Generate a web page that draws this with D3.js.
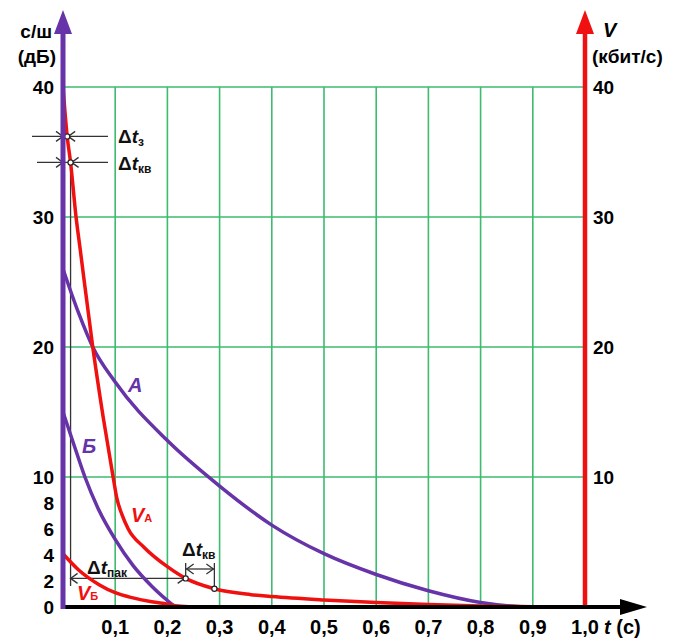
<!DOCTYPE html>
<html><head><meta charset="utf-8">
<script src="https://cdn.jsdelivr.net/npm/d3@7"></script>
<style>body{margin:0;background:#fff}svg{display:block}text{font-family:"Liberation Sans",Arial,sans-serif;font-weight:bold}</style>
</head><body>
<script>
// ---- data ----
const xTicks = [0.1,0.2,0.3,0.4,0.5,0.6,0.7,0.8,0.9,1.0];
const xTickLabels = ["0,1","0,2","0,3","0,4","0,5","0,6","0,7","0,8","0,9","1,0"];
const leftTicks = [0,2,4,6,8,10,20,30,40];
const rightTicks = [10,20,30,40];
const gridY = [10,20,30,40];
const gridX = [0.1,0.2,0.3,0.4,0.5,0.6,0.7,0.8,0.9];
const curveA = [[0,26],[0.03,22.6],[0.057,20],[0.1,17.3],[0.2,12.8],[0.3,9.3],[0.4,6.3],[0.5,4.1],[0.6,2.5],[0.7,1.25],[0.8,0.35],[0.9,0],[0.99,0]];
const curveB = [[0,15],[0.02,12.6],[0.042,10],[0.067,7.6],[0.1,5.2],[0.134,3.2],[0.17,1.6],[0.2,0.5],[0.215,0]];
const curveVA = [[0,40],[0.008,36.2],[0.0145,34.2],[0.025,30],[0.033,27.5],[0.057,20],[0.077,14.6],[0.096,10],[0.103,8.4],[0.113,7.1],[0.125,6.0],[0.155,4.6],[0.2,3.1],[0.235,2.2],[0.29,1.4],[0.36,0.95],[0.4,0.8],[0.5,0.54],[0.6,0.35],[0.7,0.2],[0.8,0.08],[0.9,0.02],[1.0,0]];
const curveVB = [[0,4.1],[0.03,2.85],[0.07,1.7],[0.1,1.1],[0.134,0.7],[0.17,0.4],[0.2,0.22],[0.22,0.08],[0.25,0]];
const markTimes = [0.008,0.0145,0.235,0.29];

const W=686,H=640;
const purple="#6633a8", red="#f01010", green="#3dbb6e", ink="#333";
const x = d3.scaleLinear().domain([0,1]).range([63,585]);
const y = d3.scaleLinear().domain([0,40]).range([607,87]);

const svg = d3.select("body").append("svg").attr("width",W).attr("height",H);

// grid
svg.append("g").selectAll("line").data(gridX).join("line")
  .attr("x1",d=>x(d)).attr("x2",d=>x(d)).attr("y1",y(40)).attr("y2",y(0))
  .attr("stroke",green).attr("stroke-width",1.6);
svg.append("g").selectAll("line").data(gridY).join("line")
  .attr("x1",x(0)).attr("x2",x(1)).attr("y1",d=>y(d)).attr("y2",d=>y(d))
  .attr("stroke",green).attr("stroke-width",1.6);

const line = d3.line().x(d=>x(d[0])).y(d=>y(d[1])).curve(d3.curveMonotoneX);

// annotation helpers
const ann = svg.append("g").attr("stroke",ink).attr("stroke-width",1.3).attr("fill","none");
function chev(px,py,dir){ // dir +1 tip pointing right, -1 pointing left
  ann.append("path").attr("d",`M${px-dir*7},${py-5}L${px},${py}L${px-dir*7},${py+5}`);
}
function vaAt(t){ return curveVA.find(d=>d[0]===t)[1]; }
const m = markTimes.map(t=>[x(t),y(vaAt(t))]);

// top dimension lines
ann.append("line").attr("x1",32).attr("x2",108).attr("y1",m[0][1]).attr("y2",m[0][1]);
chev(x(0),m[0][1],1); chev(m[0][0]+1,m[0][1],-1);
ann.append("line").attr("x1",37).attr("x2",108).attr("y1",m[1][1]).attr("y2",m[1][1]);
chev(x(0),m[1][1],1); chev(m[1][0]+1,m[1][1],-1);
// vertical from marker 2 down
ann.append("line").attr("x1",m[1][0]).attr("x2",m[1][0]).attr("y1",m[1][1]).attr("y2",586);
// Δt пак line
ann.append("line").attr("x1",m[1][0]).attr("x2",m[2][0]).attr("y1",m[2][1]).attr("y2",m[2][1]);
chev(m[1][0],m[2][1],-1); chev(m[2][0]-1,m[2][1],1);
// Δt кв bottom
ann.append("line").attr("x1",m[2][0]).attr("x2",m[2][0]).attr("y1",563).attr("y2",m[2][1]);
ann.append("line").attr("x1",m[3][0]).attr("x2",m[3][0]).attr("y1",563).attr("y2",m[3][1]);
ann.append("line").attr("x1",m[2][0]).attr("x2",m[3][0]).attr("y1",569).attr("y2",569);
chev(m[2][0]+1,569,-1); chev(m[3][0]-1,569,1);

// curves
svg.append("path").datum(curveA).attr("d",line).attr("fill","none").attr("stroke",purple).attr("stroke-width",3.5);
svg.append("path").datum(curveB).attr("d",line).attr("fill","none").attr("stroke",purple).attr("stroke-width",3.5);
svg.append("path").datum(curveVB).attr("d",line).attr("fill","none").attr("stroke",red).attr("stroke-width",3.5);
svg.append("path").datum(curveVA).attr("d",line).attr("fill","none").attr("stroke",red).attr("stroke-width",3.5);

// markers
svg.append("g").selectAll("circle").data(m).join("circle")
  .attr("cx",d=>d[0]).attr("cy",d=>d[1]).attr("r",2.6)
  .attr("fill","#fff").attr("stroke","#222").attr("stroke-width",1.2);

// axes
svg.append("line").attr("x1",x(1)).attr("x2",x(1)).attr("y1",y(0)).attr("y2",30).attr("stroke",red).attr("stroke-width",4.5);
svg.append("path").attr("d",`M${x(1)},10L${x(1)+9},34L${x(1)-9},34Z`).attr("fill",red);
svg.append("line").attr("x1",x(0)-2).attr("x2",625).attr("y1",y(0)).attr("y2",y(0)).attr("stroke","#000").attr("stroke-width",4);
svg.append("path").attr("d",`M647,${y(0)}L620,${y(0)-8}L620,${y(0)+8}Z`).attr("fill","#000");
svg.append("line").attr("x1",x(0)).attr("x2",x(0)).attr("y1",y(0)+2).attr("y2",30).attr("stroke",purple).attr("stroke-width",5);
svg.append("path").attr("d",`M${x(0)},10L${x(0)+9},34L${x(0)-9},34Z`).attr("fill",purple);

// tick labels
svg.append("g").selectAll("text").data(leftTicks).join("text")
  .attr("x",54).attr("y",d=>y(d)).attr("dy","0.36em").attr("text-anchor","end")
  .attr("font-size",19).text(d=>d);
svg.append("g").selectAll("text").data(rightTicks).join("text")
  .attr("x",593).attr("y",d=>y(d)).attr("dy","0.36em").attr("text-anchor","start")
  .attr("font-size",19).text(d=>d);
svg.append("g").selectAll("text").data(xTicks).join("text")
  .attr("x",d=>x(d)).attr("y",634).attr("text-anchor","middle")
  .attr("font-size",20).text((d,i)=>xTickLabels[i]);

// axis titles
svg.append("text").attr("x",52).attr("y",38).attr("text-anchor","end").attr("font-size",19).text("с/ш");
svg.append("text").attr("x",56).attr("y",63).attr("text-anchor","end").attr("font-size",19).text("(дБ)");
svg.append("text").attr("x",603).attr("y",37).attr("font-size",20).attr("font-style","italic").text("V");
svg.append("text").attr("x",592).attr("y",63).attr("font-size",19).text("(кбит/с)");
const tl = svg.append("text").attr("x",604).attr("y",634).attr("font-size",20);
tl.append("tspan").attr("font-style","italic").text("t");
tl.append("tspan").text(" (c)");

// curve labels
svg.append("text").attr("x",128).attr("y",392).attr("font-size",20).attr("font-style","italic").attr("fill",purple).text("A");
svg.append("text").attr("x",82).attr("y",453).attr("font-size",20).attr("font-style","italic").attr("fill",purple).text("Б");
const va = svg.append("text").attr("x",131).attr("y",522).attr("font-size",20).attr("fill",red);
va.append("tspan").attr("font-style","italic").text("V");
va.append("tspan").attr("font-size",11).text("А");
const vb = svg.append("text").attr("x",77).attr("y",600).attr("font-size",20).attr("fill",red);
vb.append("tspan").attr("font-style","italic").text("V");
vb.append("tspan").attr("font-size",11).text("Б");

// delta labels
function dlabel(px,py,sub){
  const t = svg.append("text").attr("x",px).attr("y",py).attr("font-size",19).attr("fill","#111");
  t.append("tspan").text("Δ");
  t.append("tspan").attr("font-style","italic").text("t");
  t.append("tspan").attr("font-size",12).attr("dy",3).text(sub);
}
dlabel(118,143,"з");
dlabel(118,170,"кв");
dlabel(87,574,"пак");
dlabel(182,556,"кв");
</script>
</body></html>
